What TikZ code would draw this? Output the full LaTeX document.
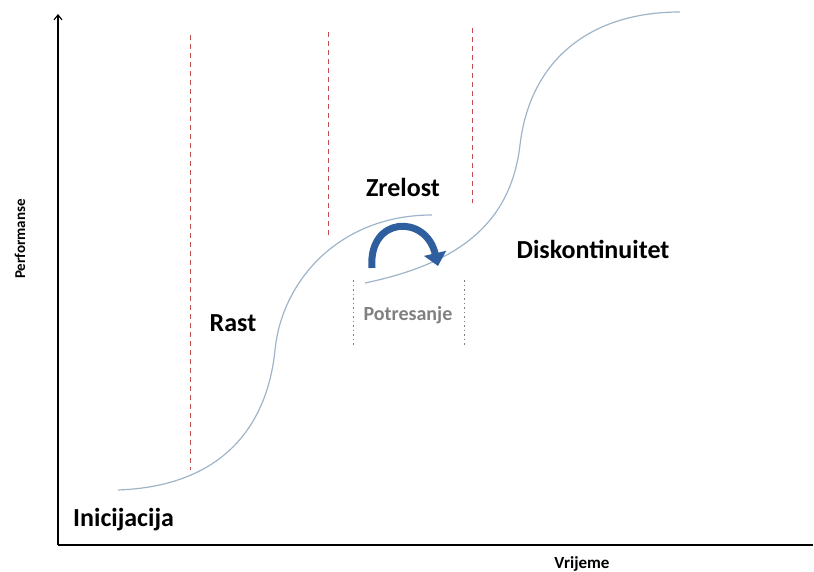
\documentclass[tikz,border=0pt]{standalone}
\usepackage{fontspec}
\setmainfont{Carlito}
\usetikzlibrary{arrows.meta}
\definecolor{curvecol}{HTML}{9FB4C8}
\definecolor{redd}{HTML}{C0504D}
\definecolor{arrowblue}{HTML}{2F5E9E}
\definecolor{gtext}{HTML}{808080}
\tikzset{
  axis/.style={line width=1.1pt, black},
  scurve/.style={line width=1.2pt, curvecol},
  phase/.style={redd, dashed, line width=0.6pt, dash pattern=on 5pt off 4pt},
  shake/.style={gray, line width=0.7pt, dash pattern=on 1.5pt off 3pt},
  lbl/.style={font=\bfseries\fontsize{26}{28}\selectfont, inner sep=0pt},
  small/.style={font=\bfseries\fontsize{15}{17}\selectfont, inner sep=0pt}
}
\begin{document}
\begin{tikzpicture}[x=1pt,y=-1pt]
\useasboundingbox (0,0) rectangle (814,572);
% axes
\coordinate (O) at (58,545);
\coordinate (Ytop) at (58,14);
\coordinate (Xend) at (813,545);
\draw[axis,-{Straight Barb[length=5pt,width=8pt]}] (O) -- (Ytop);
\draw[axis] (O) -- (Xend);
% phase separators
\coordinate (d1a) at (190,35); \coordinate (d1b) at (190,470);
\coordinate (d2a) at (328,32); \coordinate (d2b) at (328,237);
\coordinate (d3a) at (472,28); \coordinate (d3b) at (472,203);
\draw[phase] (d1a) -- (d1b);
\draw[phase] (d2a) -- (d2b);
\draw[phase] (d3a) -- (d3b);
% shake-up dotted lines
\coordinate (p1a) at (353,280); \coordinate (p1b) at (353,346);
\coordinate (p2a) at (464,280); \coordinate (p2b) at (464,346);
\draw[shake] (p1a) -- (p1b);
\draw[shake] (p2a) -- (p2b);
% S-curves
\draw[scurve] (118,490) .. controls (228,486) and (268,420) .. (275,350)
  .. controls (282,280) and (340,215) .. (432,215);
\draw[scurve] (365,283) .. controls (450,265) and (510,230) .. (520,145)
  .. controls (530,60) and (590,12) .. (680,12);
% curved arrow
\coordinate (a1) at (372,268);
\coordinate (a2) at (438,266);
\draw[arrowblue, line width=7pt, -{Triangle[length=13pt,width=22pt]}] (a1) .. controls (368,216) and (426,214) .. (a2);
% labels
\node[lbl, anchor=west] (ini) at (73,520) {Inicijacija};
\node[lbl] (rast) at (233,323) {Rast};
\node[lbl] (zrel) at (403,187) {Zrelost};
\node[lbl] (disk) at (593,249) {Diskontinuitet};
\node[font=\bfseries\fontsize{20}{22}\selectfont, text=gtext, inner sep=0pt] (pot) at (408,315) {Potresanje};
\node[small, rotate=90] (perf) at (20,239) {Performanse};
\node[font=\bfseries\fontsize{17}{19}\selectfont, inner sep=0pt] (vrij) at (582,564) {Vrijeme};
\end{tikzpicture}
\end{document}
